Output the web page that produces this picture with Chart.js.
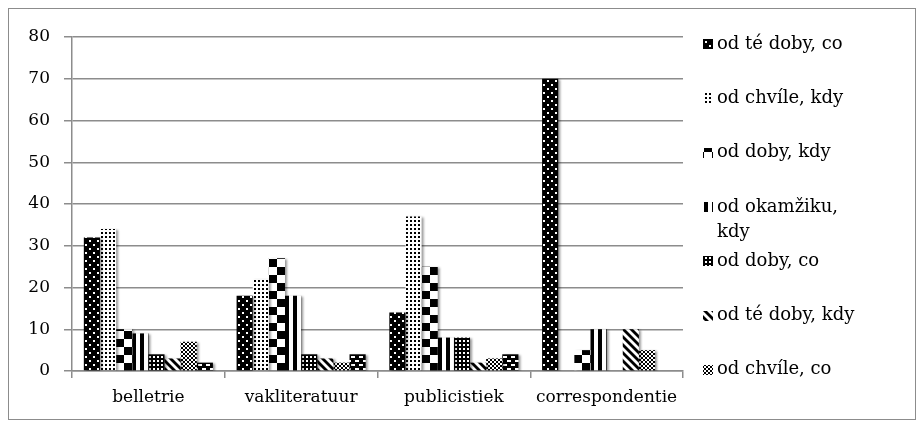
<!DOCTYPE html>
<html>
<head>
<meta charset="utf-8">
<script src="https://cdn.jsdelivr.net/npm/chart.js@4"></script>
<style>
  html, body { margin: 0; padding: 0; background: #fff; }
  #wrap { width: 924px; height: 428px; }
</style>
</head>
<body>
<div id="wrap"><canvas id="c" width="924" height="428"></canvas></div>
<script>
// Categories (text types) and one value array per expression
const categories = ['belletrie', 'vakliteratuur', 'publicistiek', 'correspondentie'];
const seriesNames = ['od té doby, co', 'od chvíle, kdy', 'od doby, kdy', 'od okamžiku, kdy',
                     'od doby, co', 'od té doby, kdy', 'od chvíle, co', 'od okamžiku, co'];
const odTeDobyCo    = [32, 18, 14, 70];
const odChvileKdy   = [34, 22, 37, 0];
const odDobyKdy     = [10, 27, 25, 5];
const odOkamzikuKdy = [9, 18, 8, 10];
const odDobyCo      = [4, 4, 8, 0];
const odTeDobyKdy   = [3, 3, 2, 10];
const odChvileCo    = [7, 2, 3, 5];
const odOkamzikuCo  = [2, 4, 4, 0];
const seriesValues = [odTeDobyCo, odChvileKdy, odDobyKdy, odOkamzikuKdy,
                      odDobyCo, odTeDobyKdy, odChvileCo, odOkamzikuCo];
const yMin = 0, yMax = 80, yStep = 10;
const legendCount = 7;   // entries shown in the side legend

const FONT = 'DejaVu Serif';
const GRID = '#8c8c8c';
const CAT_PCT = 0.845;

// ---- monochrome fill tiles ----
function tile(w, h, draw) {
  const c = document.createElement('canvas');
  c.width = w; c.height = h;
  const g = c.getContext('2d');
  draw(g, w, h);
  return c;
}
const baseCtx = document.getElementById('c').getContext('2d');

const tiles = [
  // white dots on black
  tile(8, 8, (g, w, h) => {
    g.fillStyle = '#000'; g.fillRect(0, 0, w, h);
    g.fillStyle = '#fff'; g.fillRect(1, 1, 2, 2); g.fillRect(5, 5, 2, 2);
  }),
  // black dots on white
  tile(4, 4, (g, w, h) => {
    g.fillStyle = '#fff'; g.fillRect(0, 0, w, h);
    g.fillStyle = '#000'; g.fillRect(1, 1, 2, 2);
  }),
  // large checkerboard
  tile(16, 16, (g, w, h) => {
    g.fillStyle = '#fff'; g.fillRect(0, 0, w, h);
    g.fillStyle = '#000'; g.fillRect(0, 0, 8, 8); g.fillRect(8, 8, 8, 8);
  }),
  // wide vertical stripes
  tile(8, 4, (g, w, h) => {
    g.fillStyle = '#fff'; g.fillRect(0, 0, w, h);
    g.fillStyle = '#000'; g.fillRect(0, 0, 4, h);
  }),
  // small grid
  tile(4, 4, (g, w, h) => {
    g.fillStyle = '#000'; g.fillRect(0, 0, w, h);
    g.fillStyle = '#fff'; g.fillRect(1, 1, 2, 2);
  }),
  // wide downward diagonal
  tile(8, 8, (g, w, h) => {
    g.fillStyle = '#fff'; g.fillRect(0, 0, w, h);
    g.fillStyle = '#000';
    for (const k of [-8, 0, 8]) {
      g.beginPath();
      g.moveTo(k, 0); g.lineTo(k + 4, 0); g.lineTo(k + 12, 8); g.lineTo(k + 8, 8);
      g.closePath(); g.fill();
    }
  }),
  // fine checkerboard
  tile(4, 4, (g, w, h) => {
    g.fillStyle = '#fff'; g.fillRect(0, 0, w, h);
    g.fillStyle = '#000'; g.fillRect(0, 0, 2, 2); g.fillRect(2, 2, 2, 2);
  }),
  // bricks
  tile(8, 8, (g, w, h) => {
    g.fillStyle = '#000'; g.fillRect(0, 0, w, h);
    g.fillStyle = '#fff'; g.fillRect(1, 1, 4, 2); g.fillRect(5, 5, 3, 2); g.fillRect(0, 5, 1, 2);
  })
];
const legendPatterns = tiles.map(t => baseCtx.createPattern(t, 'repeat'));

// Pattern anchored at the left edge of each bar and the axis baseline
function barFill(ctx) {
  const chart = ctx.chart;
  const xs = chart.scales.x, ys = chart.scales.y;
  const n = chart.data.datasets.length;
  const p = baseCtx.createPattern(tiles[ctx.datasetIndex], 'repeat');
  if (xs && ys && ctx.dataIndex !== undefined) {
    const catW = (xs.right - xs.left) / chart.data.labels.length;
    const bw = catW * CAT_PCT / n;
    const left = xs.getPixelForValue(ctx.dataIndex) - bw * n / 2 + bw * ctx.datasetIndex;
    p.setTransform(new DOMMatrix().translate(Math.round(left), Math.round(ys.getPixelForValue(0))));
  }
  return p;
}

// ---- plugins ----
const frame = {
  id: 'frame',
  beforeDraw(chart) {
    const ctx = chart.ctx;
    ctx.save();
    ctx.fillStyle = '#fff';
    ctx.fillRect(0, 0, chart.width, chart.height);
    ctx.strokeStyle = '#8c8c8c';
    ctx.lineWidth = 1;
    ctx.strokeRect(8.5, 8.5, chart.width - 17, chart.height - 17);
    ctx.restore();
  }
};

const barShadow = {
  id: 'barShadow',
  beforeDatasetsDraw(chart) {
    const ctx = chart.ctx;
    ctx.save();
    ctx.shadowColor = 'rgba(0,0,0,0.4)';
    ctx.shadowBlur = 2;
    ctx.shadowOffsetX = 2;
    ctx.shadowOffsetY = 1;
  },
  afterDatasetsDraw(chart) {
    chart.ctx.restore();
  }
};

const sideLegend = {
  id: 'sideLegend',
  afterDraw(chart, args, o) {
    const ctx = chart.ctx;
    ctx.save();
    ctx.font = `${o.size}px "${FONT}"`;
    ctx.textBaseline = 'middle';
    ctx.textAlign = 'left';
    chart.data.datasets.slice(0, o.count).forEach((ds, i) => {
      const y = o.top + o.step * i;
      ctx.fillStyle = legendPatterns[i];
      ctx.fillRect(o.x, Math.round(y - o.box / 2), o.box, o.box);
      // wrap long labels by words
      const words = ds.label.split(' ');
      const lines = [];
      let cur = '';
      words.forEach(wd => {
        const t = cur ? cur + ' ' + wd : wd;
        if (cur && ctx.measureText(t).width > o.maxWidth) { lines.push(cur); cur = wd; }
        else cur = t;
      });
      lines.push(cur);
      ctx.fillStyle = '#000';
      lines.forEach((ln, j) => ctx.fillText(ln, o.x + o.box + o.gap, y + j * o.lineHeight));
    });
    ctx.restore();
  }
};

new Chart(document.getElementById('c'), {
  type: 'bar',
  data: {
    labels: categories,
    datasets: seriesValues.map((vals, i) => ({
      label: seriesNames[i],
      data: vals,
      backgroundColor: barFill,
      borderWidth: 0,
      categoryPercentage: CAT_PCT,
      barPercentage: 1.0
    }))
  },
  options: {
    responsive: false,
    animation: false,
    events: [],
    layout: { padding: { top: 37, right: 241, bottom: 0, left: 0 } },
    plugins: {
      legend: { display: false },
      tooltip: { enabled: false },
      sideLegend: { count: legendCount, x: 703, top: 44, step: 54.3, box: 10, gap: 4,
                    size: 18, lineHeight: 25, maxWidth: 152 }
    },
    scales: {
      x: {
        offset: true,
        grid: { offset: true, drawOnChartArea: false, drawTicks: true, tickLength: 7,
                color: GRID, lineWidth: 1.5 },
        border: { display: true, color: GRID, width: 1.5 },
        ticks: { color: '#000', font: { family: FONT, size: 17 }, padding: 9, maxRotation: 0 },
        afterFit(s) { s.height = 57; }
      },
      y: {
        min: yMin, max: yMax,
        ticks: { stepSize: yStep, color: '#000', font: { family: FONT, size: 17 }, padding: 14 },
        grid: { color: GRID, lineWidth: 1.5, tickLength: 8 },
        border: { display: true, color: GRID, width: 1.5 },
        afterFit(s) { s.width = 72; }
      }
    }
  },
  plugins: [frame, barShadow, sideLegend]
});
</script>
</body>
</html>
